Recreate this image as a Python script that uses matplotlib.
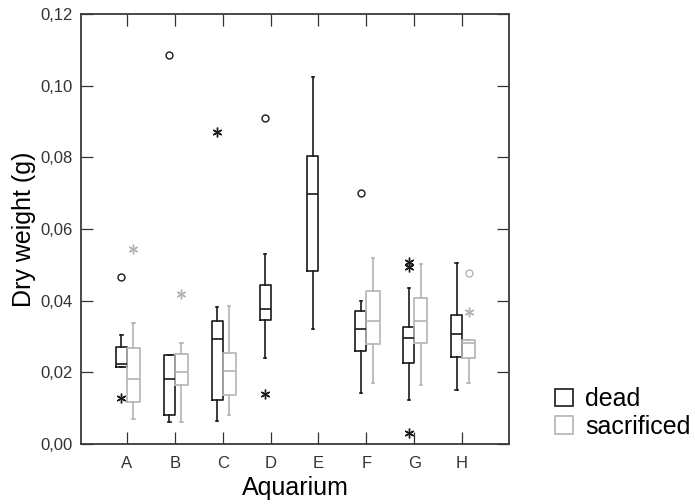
import numpy as np
import matplotlib
matplotlib.use("Agg")
import matplotlib.pyplot as plt
from matplotlib.patches import Patch

plt.rcParams['font.family'] = ['Liberation Sans', 'DejaVu Sans']

# Aquarium groups
aquaria = ['A', 'B', 'C', 'D', 'E', 'F', 'G', 'H']

# box stats per aquarium: whisker low, Q1, median, Q3, whisker high (g)
dead_lo = [0.0216, 0.0062, 0.0065, 0.0239, 0.0320, 0.0141, 0.0122, 0.0151]
dead_q1 = [0.0216, 0.0082, 0.0122, 0.0345, 0.0482, 0.0260, 0.0225, 0.0244]
dead_med = [0.0222, 0.0181, 0.0294, 0.0378, 0.0699, 0.0322, 0.0297, 0.0307]
dead_q3 = [0.0271, 0.0248, 0.0342, 0.0445, 0.0805, 0.0371, 0.0327, 0.0359]
dead_hi = [0.0304, 0.0248, 0.0382, 0.0531, 0.1024, 0.0398, 0.0434, 0.0504]

# no sacrificed fish in D and E
sac_lo = [0.0070, 0.0062, 0.0082, None, None, 0.0170, 0.0166, 0.0170]
sac_q1 = [0.0118, 0.0164, 0.0137, None, None, 0.0278, 0.0281, 0.0241]
sac_med = [0.0181, 0.0200, 0.0204, None, None, 0.0343, 0.0342, 0.0281]
sac_q3 = [0.0267, 0.0252, 0.0255, None, None, 0.0427, 0.0407, 0.0290]
sac_hi = [0.0339, 0.0281, 0.0385, None, None, 0.0519, 0.0502, 0.0290]

# outliers (o) and extremes (*) as (aquarium, value)
dead_outliers = [('A', 0.0466), ('B', 0.1086), ('D', 0.0909), ('F', 0.0701)]
dead_extremes = [('A', 0.0127), ('C', 0.0870), ('D', 0.0139),
                 ('G', 0.0508), ('G', 0.0495), ('G', 0.0031)]
sac_outliers = [('H', 0.0478)]
sac_extremes = [('A', 0.0545), ('B', 0.0418), ('H', 0.0368)]

ytick_vals = [0.00, 0.02, 0.04, 0.06, 0.08, 0.10, 0.12]
ytick_labels = ['0,00', '0,02', '0,04', '0,06', '0,08', '0,10', '0,12']

dead_color = '#1a1a1a'
sac_color = '#b4b4b4'
dead_off, sac_off = -0.115, 0.136
dead_w, sac_w = 0.23, 0.28

fig = plt.figure(figsize=(6.95, 5.04), dpi=100)
ax = fig.add_axes([81 / 695, 60 / 504, 428 / 695, 430 / 504])


def make_stats(lo, q1, med, q3, hi):
    stats, idx = [], []
    for i in range(len(aquaria)):
        if med[i] is None:
            continue
        stats.append(dict(whislo=lo[i], q1=q1[i], med=med[i], q3=q3[i],
                          whishi=hi[i], fliers=[]))
        idx.append(i)
    return stats, idx


def draw_group(stats, idx, offset, width, color):
    pos = [i + offset for i in idx]
    lp = dict(color=color, linewidth=1.2)
    ax.bxp(stats, positions=pos, widths=width, showfliers=False,
           boxprops=lp, whiskerprops=lp, capprops=lp, medianprops=lp,
           capwidths=0.05, manage_ticks=False)


def draw_points(points, offset, color, marker, size):
    xs = [aquaria.index(a) + offset for a, _ in points]
    ys = [v for _, v in points]
    if marker == 'o':
        ax.plot(xs, ys, linestyle='none', marker='o', markersize=size,
                markerfacecolor='none', markeredgecolor=color,
                markeredgewidth=1.0)
    else:
        ax.plot(xs, ys, linestyle='none', marker=(6, 2, 0), markersize=size,
                color=color, markeredgewidth=1.0)


s, i_ = make_stats(dead_lo, dead_q1, dead_med, dead_q3, dead_hi)
draw_group(s, i_, dead_off, dead_w, dead_color)
s, i_ = make_stats(sac_lo, sac_q1, sac_med, sac_q3, sac_hi)
draw_group(s, i_, sac_off, sac_w, sac_color)

draw_points(dead_outliers, dead_off, dead_color, 'o', 5)
draw_points(dead_extremes, dead_off, dead_color, '*', 7)
draw_points(sac_outliers, sac_off, sac_color, 'o', 5)
draw_points(sac_extremes, sac_off, sac_color, '*', 7)

ax.set_xlim(-0.96, 7.98)
ax.set_ylim(0, 0.12)
ax.set_xticks(range(len(aquaria)))
ax.set_xticklabels(aquaria)
ax.set_yticks(ytick_vals)
ax.set_yticklabels(ytick_labels)
ax.tick_params(direction='in', top=True, right=True, length=8.5,
               width=0.9, color='#333333', labelsize=12,
               labelcolor='#333333', pad=6)
ax.tick_params(axis='x', pad=9)

for sp in ax.spines.values():
    sp.set_color('#3a3a3a')
    sp.set_linewidth(1.3)

ax.set_xlabel('Aquarium', fontsize=18, labelpad=3)
ax.set_ylabel('Dry weight (g)', fontsize=18, labelpad=3)

handles = [Patch(facecolor='white', edgecolor=dead_color, linewidth=1.2),
           Patch(facecolor='white', edgecolor=sac_color, linewidth=1.2)]
fig.legend(handles, ['dead', 'sacrificed'], loc='upper left',
           bbox_to_anchor=(555 / 695, 1 - 387 / 504), frameon=False,
           fontsize=18, handlelength=0.7, handleheight=0.7,
           handletextpad=0.5, labelspacing=0.15, borderpad=0,
           borderaxespad=0)

fig.savefig('out.png', dpi=100)
